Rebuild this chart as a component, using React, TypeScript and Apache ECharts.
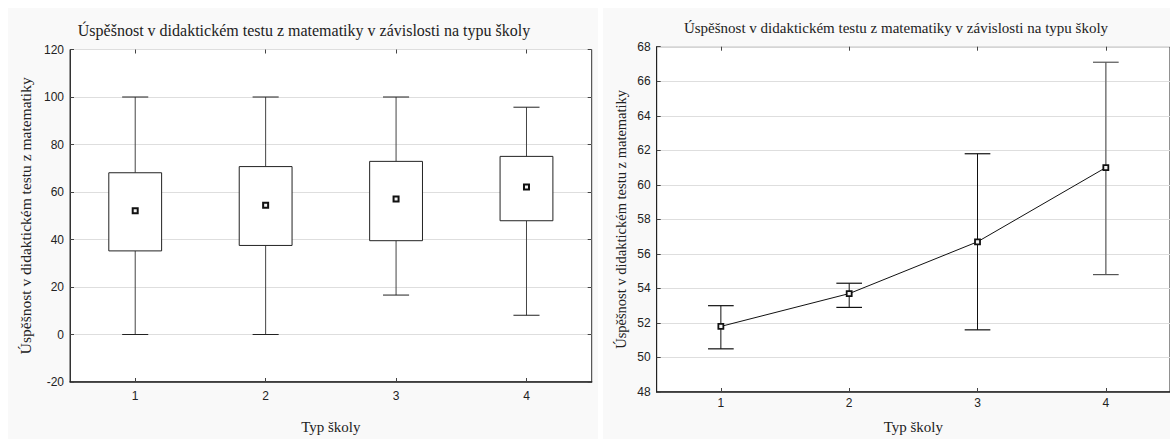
import React, { useEffect, useRef } from "react";
import * as echarts from "echarts";

// ---------- data ----------
const categories = ["1", "2", "3", "4"];

// left: box plot (whisker low, box low, mean, box high, whisker high)
const whiskerLow = [0, 0, 16.6, 8.1];
const boxLow = [35.2, 37.5, 39.5, 47.9];
const boxMean = [52.1, 54.4, 57.1, 62.1];
const boxHigh = [68.1, 70.7, 72.9, 75.0];
const whiskerHigh = [100, 100, 100, 95.7];
const leftAxis = { min: -20, max: 120, interval: 20 };

// right: means with interval
const meanValues = [51.8, 53.7, 56.7, 61.0];
const ciLow = [50.5, 52.9, 51.6, 54.8];
const ciHigh = [53.0, 54.3, 61.8, 67.1];
const rightAxis = { min: 48, max: 68, interval: 2 };

const titleText = "Úspěšnost v didaktickém testu z matematiky v závislosti na typu školy";
const yName = "Úspěšnost v didaktickém testu z matematiky";
const xName = "Typ školy";

const SERIF = "Liberation Serif, Times New Roman, serif";
const SANS = "Liberation Sans, Arial, sans-serif";

export default function App() {
  const ref = useRef<HTMLDivElement>(null);

  useEffect(() => {
    if (!ref.current) return;
    const chart = echarts.init(ref.current, undefined, { renderer: "svg" });

    const boxData = categories.map((_, i) => [i, whiskerLow[i], boxLow[i], boxHigh[i], whiskerHigh[i]]);
    const errData = categories.map((_, i) => [i, ciLow[i], ciHigh[i]]);

    const tickLabel = { fontFamily: SANS, fontSize: 12, color: "#222" };

    const xCat = (gridIndex: number, margin: number, nameGap: number) => ({
      type: "category",
      gridIndex,
      data: categories,
      boundaryGap: true,
      axisLine: { show: true, onZero: false, lineStyle: { color: "#222", width: 1.5 } },
      axisTick: { show: true, inside: true, alignWithLabel: true, length: 4, lineStyle: { color: "#444" } },
      axisLabel: { ...tickLabel, margin },
      splitLine: { show: false },
      name: xName,
      nameLocation: "middle",
      nameGap,
      nameTextStyle: { fontFamily: SERIF, fontSize: 15, color: "#222" },
    });
    const xTop = (gridIndex: number) => ({
      type: "category",
      gridIndex,
      position: "top",
      data: categories,
      boundaryGap: true,
      axisLine: { show: false, onZero: false },
      axisTick: { show: true, inside: true, alignWithLabel: true, length: 4, lineStyle: { color: "#444" } },
      axisLabel: { show: false },
      splitLine: { show: false },
    });

    const option: any = {
      animation: false,
      backgroundColor: "#ffffff",
      graphic: [
        { type: "rect", z: -10, shape: { x: 8, y: 8, width: 590, height: 431 }, style: { fill: "#f9f9f9" }, silent: true },
        { type: "rect", z: -10, shape: { x: 603, y: 8, width: 567, height: 431 }, style: { fill: "#f9f9f9" }, silent: true },
        {
          type: "text", z: 10, x: 304, y: 30,
          style: { text: titleText, font: `16px ${SERIF}`, fill: "#222", align: "center", verticalAlign: "middle", textAlign: "center", textVerticalAlign: "middle" },
        },
        {
          type: "text", z: 10, x: 896, y: 28,
          style: { text: titleText, font: `15px ${SERIF}`, fill: "#222", align: "center", verticalAlign: "middle", textAlign: "center", textVerticalAlign: "middle" },
        },
      ],
      grid: [
        { left: 70, top: 49.5, width: 521.7, height: 335.5, show: true, backgroundColor: "#ffffff", borderColor: "#333", borderWidth: 1, containLabel: false },
        { left: 656.7, top: 46.7, width: 520, height: 352.3, show: true, backgroundColor: "#ffffff", borderColor: "#222", borderWidth: 1, containLabel: false },
      ],
      xAxis: [xCat(0, 8, 37), xTop(0), xCat(1, 5, 27), xTop(1)],
      yAxis: [
        {
          type: "value", gridIndex: 0, ...leftAxis,
          axisLine: { show: true, onZero: false, lineStyle: { color: "#333" } },
          axisTick: { show: true, inside: true, length: 4, lineStyle: { color: "#444" } },
          axisLabel: { ...tickLabel, margin: 6 },
          splitLine: { show: true, lineStyle: { color: "#dedede", width: 1 } },
          name: yName, nameLocation: "middle", nameRotate: 90, nameGap: 37,
          nameTextStyle: { fontFamily: SERIF, fontSize: 15.5, color: "#222" },
        },
        {
          type: "value", gridIndex: 0, position: "right", ...leftAxis,
          axisLine: { show: false, onZero: false },
          axisTick: { show: true, inside: true, length: 4, lineStyle: { color: "#444" } },
          axisLabel: { show: false },
          splitLine: { show: false },
        },
        {
          type: "value", gridIndex: 1, ...rightAxis,
          axisLine: { show: true, onZero: false, lineStyle: { color: "#222" } },
          axisTick: { show: true, inside: true, length: 4, lineStyle: { color: "#444" } },
          axisLabel: { ...tickLabel, margin: 6 },
          splitLine: { show: true, lineStyle: { color: "#dedede", width: 1 } },
          name: yName, nameLocation: "middle", nameRotate: 90, nameGap: 28,
          nameTextStyle: { fontFamily: SERIF, fontSize: 14.5, color: "#222" },
        },
      ],
      series: [
        {
          type: "custom",
          xAxisIndex: 0,
          yAxisIndex: 0,
          data: boxData,
          encode: { x: 0, y: [1, 2, 3, 4] },
          renderItem: (params: any, api: any) => {
            const idx = api.value(0);
            const band = api.size([1, 0])[0];
            const boxW = band * 0.405;
            const capW = band * 0.2;
            const pWL = api.coord([idx, api.value(1)]);
            const pBL = api.coord([idx, api.value(2)]);
            const pBH = api.coord([idx, api.value(3)]);
            const pWH = api.coord([idx, api.value(4)]);
            const cx = pWL[0];
            const ws = { stroke: "#444", lineWidth: 1 };
            return {
              type: "group",
              children: [
                { type: "line", shape: { x1: cx, y1: pWH[1], x2: cx, y2: pBH[1] }, style: ws },
                { type: "line", shape: { x1: cx - capW / 2, y1: pWH[1], x2: cx + capW / 2, y2: pWH[1] }, style: { stroke: "#222", lineWidth: 1 } },
                { type: "line", shape: { x1: cx, y1: pBL[1], x2: cx, y2: pWL[1] }, style: ws },
                { type: "line", shape: { x1: cx - capW / 2, y1: pWL[1], x2: cx + capW / 2, y2: pWL[1] }, style: { stroke: "#222", lineWidth: 1 } },
                {
                  type: "rect",
                  shape: { x: cx - boxW / 2, y: pBH[1], width: boxW, height: pBL[1] - pBH[1] },
                  style: { fill: "#ffffff", stroke: "#222", lineWidth: 1 },
                },
              ],
            };
          },
        },
        {
          type: "scatter",
          xAxisIndex: 0,
          yAxisIndex: 0,
          data: boxMean,
          symbol: "rect",
          symbolSize: 5,
          itemStyle: { color: "#f4f4f4", borderColor: "#111", borderWidth: 2, opacity: 1 },
          z: 5,
        },
        {
          type: "custom",
          xAxisIndex: 2,
          yAxisIndex: 2,
          data: errData,
          encode: { x: 0, y: [1, 2] },
          renderItem: (params: any, api: any) => {
            const idx = api.value(0);
            const band = api.size([1, 0])[0];
            const capW = band * 0.2;
            const pL = api.coord([idx, api.value(1)]);
            const pH = api.coord([idx, api.value(2)]);
            const cx = pL[0];
            const col = idx === 3 ? "#777" : "#111";
            const capCol = idx === 3 ? "#555" : "#111";
            return {
              type: "group",
              children: [
                { type: "line", shape: { x1: cx, y1: pH[1], x2: cx, y2: pL[1] }, style: { stroke: col, lineWidth: idx === 3 ? 1.5 : 1 } },
                { type: "line", shape: { x1: cx - capW / 2, y1: pH[1], x2: cx + capW / 2, y2: pH[1] }, style: { stroke: capCol, lineWidth: 1.2 } },
                { type: "line", shape: { x1: cx - capW / 2, y1: pL[1], x2: cx + capW / 2, y2: pL[1] }, style: { stroke: capCol, lineWidth: 1.2 } },
              ],
            };
          },
        },
        {
          type: "line",
          xAxisIndex: 2,
          yAxisIndex: 2,
          data: meanValues,
          symbol: "rect",
          symbolSize: 5,
          showSymbol: true,
          lineStyle: { color: "#111", width: 1 },
          itemStyle: { color: "#f4f4f4", borderColor: "#111", borderWidth: 1.8 },
          z: 5,
        },
      ],
    };

    chart.setOption(option);
    return () => chart.dispose();
  }, []);

  return (
    <div
      ref={ref}
      style={{ position: "fixed", left: 0, top: 0, width: 1170, height: 439, overflow: "hidden" }}
    />
  );
}
